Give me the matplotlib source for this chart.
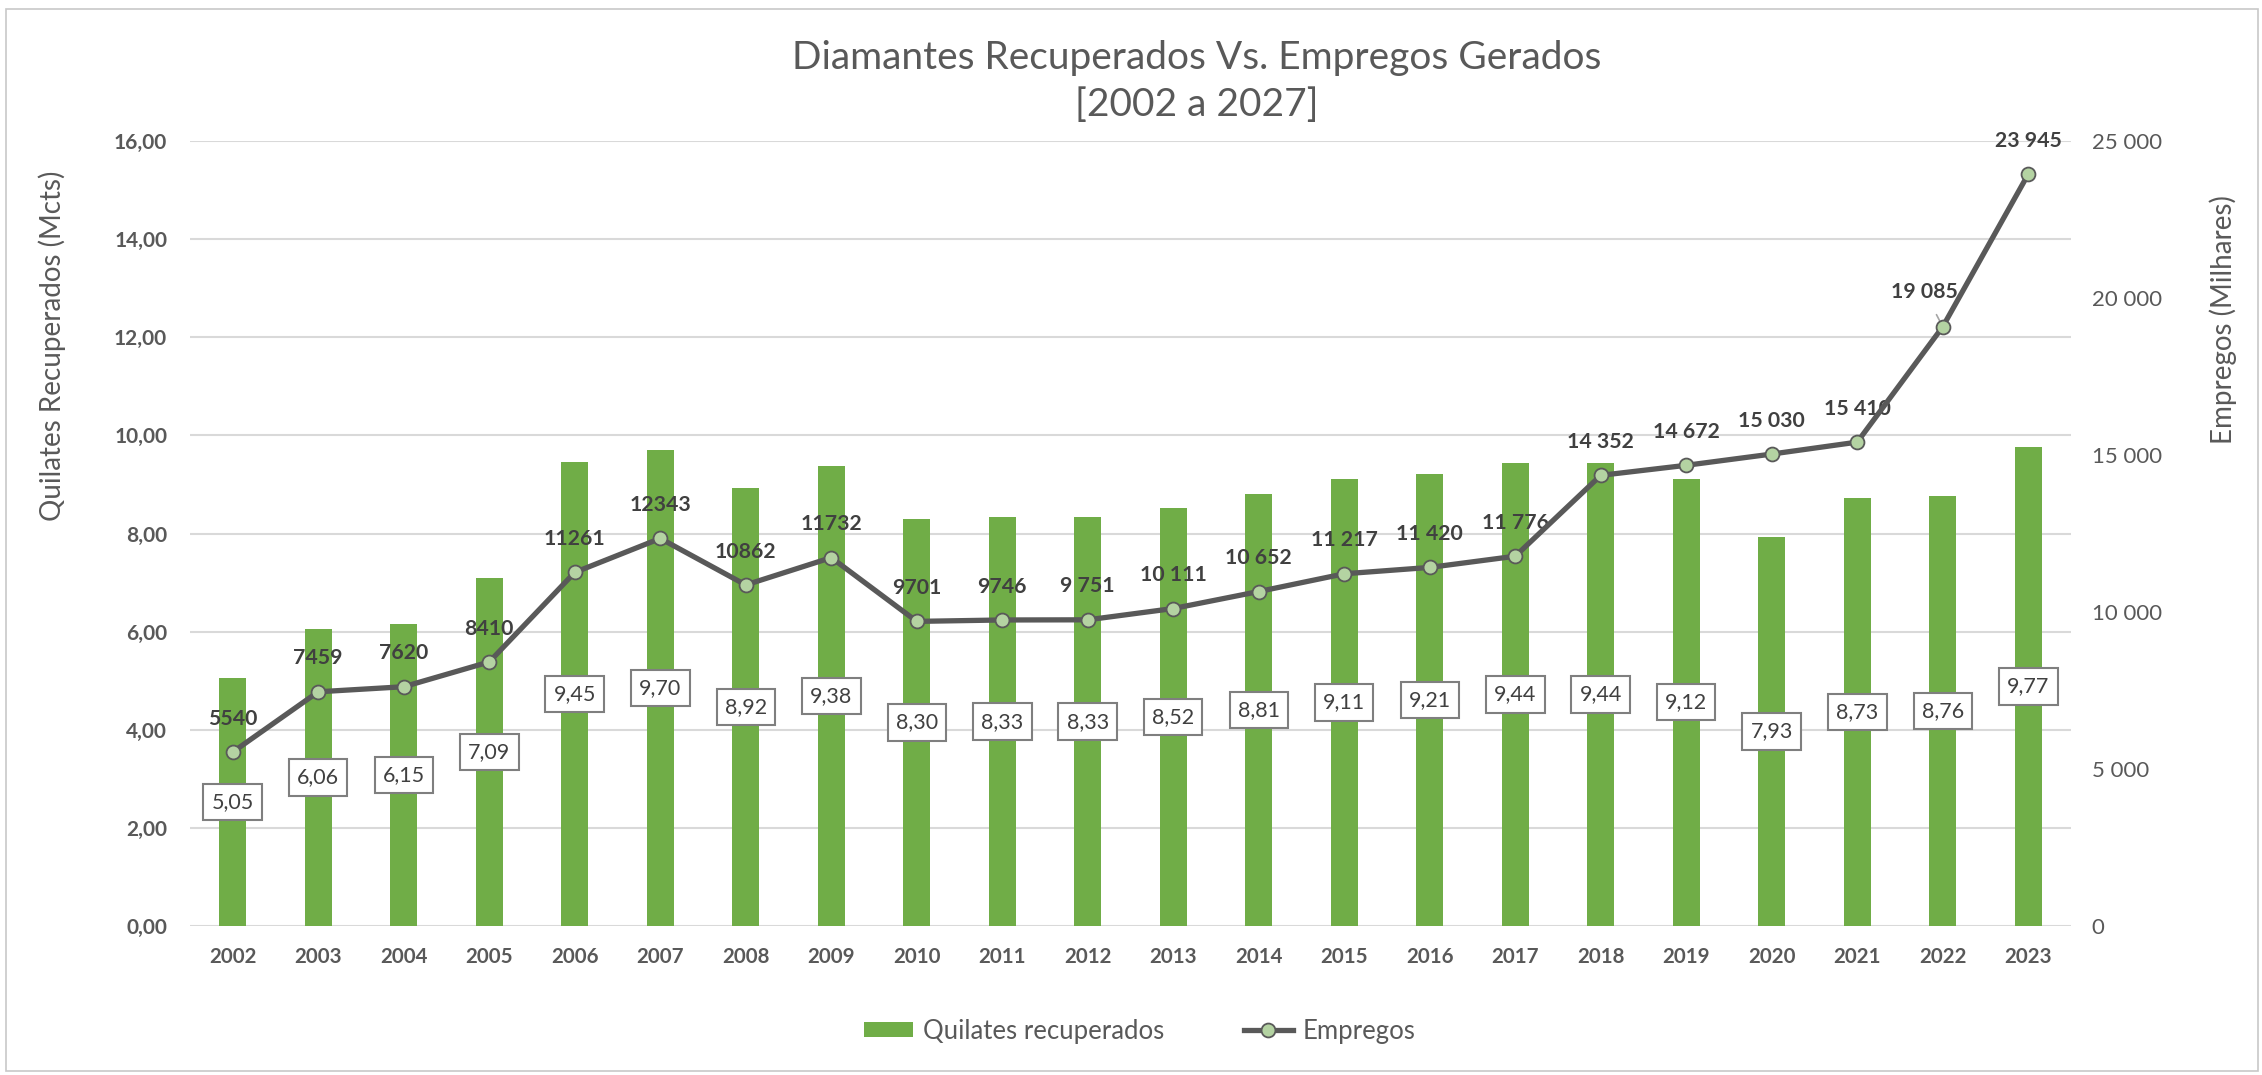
import matplotlib
matplotlib.use("Agg")
import matplotlib.pyplot as plt
from matplotlib.patches import Rectangle, Patch
from matplotlib.lines import Line2D
import numpy as np

plt.rcParams['font.family'] = ['Lato', 'DejaVu Sans']

years = ["2002", "2003", "2004", "2005", "2006", "2007", "2008", "2009", "2010", "2011", "2012",
         "2013", "2014", "2015", "2016", "2017", "2018", "2019", "2020", "2021", "2022", "2023"]
quilates = [5.05, 6.06, 6.15, 7.09, 9.45, 9.70, 8.92, 9.38, 8.30, 8.33, 8.33,
            8.52, 8.81, 9.11, 9.21, 9.44, 9.44, 9.12, 7.93, 8.73, 8.76, 9.77]
empregos = [5540, 7459, 7620, 8410, 11261, 12343, 10862, 11732, 9701, 9746, 9751,
            10111, 10652, 11217, 11420, 11776, 14352, 14672, 15030, 15410, 19085, 23945]
empregos_labels = ["5540", "7459", "7620", "8410", "11261", "12343", "10862", "11732", "9701", "9746", "9 751",
                   "10 111", "10 652", "11 217", "11 420", "11 776", "14 352", "14 672", "15 030", "15 410",
                   "19 085", "23 945"]
left_ticks = [0, 2, 4, 6, 8, 10, 12, 14, 16]
right_ticks = [0, 5000, 10000, 15000, 20000, 25000]

TXT = "#595959"
DARK = "#404040"
GREEN = "#70AD47"
LINE = "#595959"
MARK = "#B4D3A2"

W, H = 2262, 1075
fig = plt.figure(figsize=(W / 100, H / 100), dpi=100)
fig.patch.set_facecolor("white")
fig.add_artist(Rectangle((6 / W, 4 / H), (W - 10) / W, (H - 13) / H, transform=fig.transFigure,
                         fill=False, edgecolor="#C8C8C8", linewidth=1.2))

L, R, T, B = 190, 2071, 141, 926
ax = fig.add_axes([L / W, 1 - B / H, (R - L) / W, (B - T) / H])
x = np.arange(len(years))
ax.bar(x, quilates, width=0.316, color=GREEN, zorder=2)
ax.set_xlim(-0.5, len(years) - 0.5)
ax.set_ylim(0, 16)
ax.set_yticks(left_ticks)
ax.set_yticklabels([f"{v:.2f}".replace(".", ",") for v in left_ticks])
ax.set_xticks(x)
ax.set_xticklabels(years)
ax.grid(axis="y", color="#D9D9D9", linewidth=1.5, zorder=0)
ax.set_axisbelow(True)
for s in ax.spines.values():
    s.set_visible(False)
ax.tick_params(axis="both", length=0, colors=TXT)
ax.tick_params(axis="y", pad=16.5, labelsize=15)
ax.tick_params(axis="x", pad=15, labelsize=14.8)
for lab in ax.get_xticklabels() + ax.get_yticklabels():
    lab.set_fontweight("bold")

for xi, q in zip(x, quilates):
    ax.text(xi, q / 2, f"{q:.2f}".replace(".", ","), ha="center", va="center", fontsize=15.5,
            color=DARK, zorder=5,
            bbox=dict(boxstyle="square,pad=0.38", facecolor="white", edgecolor="#7F7F7F", linewidth=1.5))

ax2 = ax.twinx()
ax2.set_ylim(0, 25000)
ax2.set_yticks(right_ticks)
ax2.set_yticklabels([f"{v:,}".replace(",", " ") for v in right_ticks])
for s in ax2.spines.values():
    s.set_visible(False)
ax2.tick_params(axis="y", length=0, colors=TXT, labelsize=16, pad=15)
ax2.plot(x, empregos, color=LINE, linewidth=3.8, marker="o", markersize=10,
         markerfacecolor=MARK, markeredgecolor=LINE, markeredgewidth=1.3, zorder=4)

for xi, e, lab in zip(x, empregos, empregos_labels):
    if lab == "19 085":
        ax2.annotate(lab, xy=(xi, e), xytext=(-13, 25), textcoords="offset points", ha="center",
                     va="center", fontsize=15.3, fontweight="bold", color=DARK,
                     arrowprops=dict(arrowstyle="-", color="#A6A6A6", lw=1.2, shrinkA=8, shrinkB=2))
    else:
        ax2.annotate(lab, xy=(xi, e), xytext=(0, 24), textcoords="offset points", ha="center",
                     va="center", fontsize=15.3, fontweight="bold", color=DARK)

fig.text(52 / W, 1 - 346 / H, "Quilates Recuperados (Mcts)", rotation=90, ha="center", va="center",
         fontsize=20, color=TXT)
fig.text(2223 / W, 1 - 320 / H, "Empregos (Milhares)", rotation=90, ha="center", va="center",
         fontsize=20, color=TXT)

fig.text(1197 / W, 1 - 58 / H, "Diamantes Recuperados Vs. Empregos Gerados", ha="center", va="center",
         fontsize=28, color=TXT)
fig.text(1197 / W, 1 - 105 / H, "[2002 a 2027]", ha="center", va="center", fontsize=28, color=TXT)

handles = [Patch(facecolor=GREEN, edgecolor="none"),
           Line2D([0], [0], color=LINE, linewidth=3.8, marker="o", markersize=10,
                  markerfacecolor=MARK, markeredgecolor=LINE, markeredgewidth=1.3)]
fig.legend(handles, ["Quilates recuperados", "Empregos"], loc="center", bbox_to_anchor=(1140 / W, 1 - 1031 / H),
           ncol=2, frameon=False, fontsize=18.5, labelcolor=TXT, handlelength=1.9, handleheight=0.55,
           columnspacing=3.1, handletextpad=0.4)

fig.savefig("out.png", dpi=100)
